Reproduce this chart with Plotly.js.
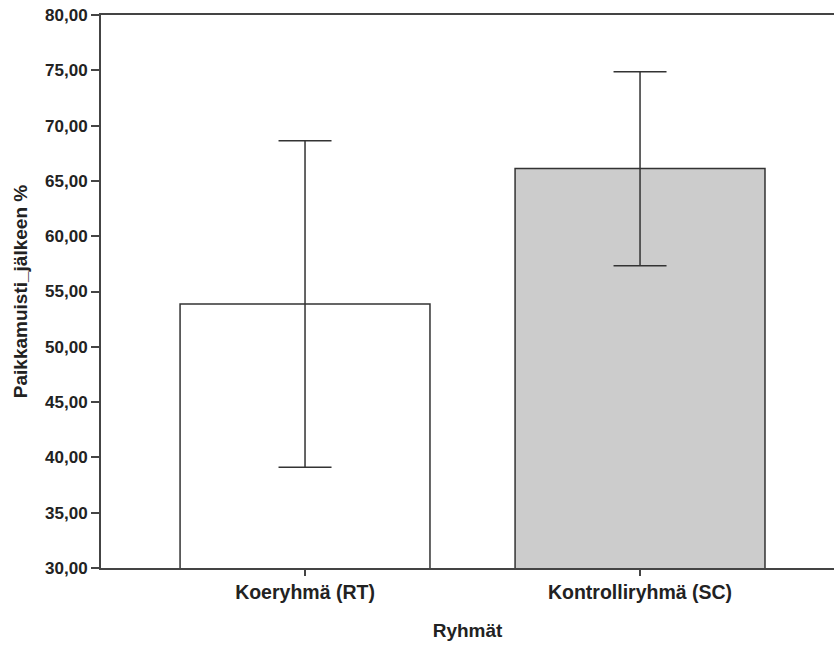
<!DOCTYPE html>
<html>
<head>
<meta charset="utf-8">
<script src="https://cdn.plot.ly/plotly-3.0.1.min.js"></script>
<style>html,body{margin:0;padding:0;background:#fff;}#chart{width:834px;height:646px;}</style>
</head>
<body>
<div id="chart"></div>
<script>
const categories = ["Koeryhmä (RT)", "Kontrolliryhmä (SC)"];
const means = [53.87, 66.12];
const lowerCI = [39.10, 57.33];
const upperCI = [68.63, 74.86];
const barColors = ["#ffffff", "#cccccc"];
const yTickValues = [30, 35, 40, 45, 50, 55, 60, 65, 70, 75, 80];

const plus = upperCI.map((u, i) => u - means[i]);
const minus = lowerCI.map((l, i) => means[i] - l);

const trace = {
  type: "bar",
  x: categories,
  y: means,
  base: 0,
  width: 0.746,
  marker: { color: barColors, line: { color: "#333333", width: 1.5 } },
  error_y: {
    type: "data", symmetric: false, array: plus, arrayminus: minus,
    color: "#333333", thickness: 1.5, width: 26.5
  },
  hoverinfo: "none"
};

const layout = {
  width: 834, height: 646,
  margin: { l: 101, r: 0, t: 15, b: 78 },
  paper_bgcolor: "#ffffff", plot_bgcolor: "#ffffff",
  separators: ",.",
  font: { family: "Liberation Sans, Arial, sans-serif", color: "#222222" },
  showlegend: false,
  xaxis: {
    type: "category",
    range: [-0.609, 1.579],
    showline: true, linecolor: "#444444", linewidth: 2, mirror: true,
    ticks: "outside", ticklen: 6, tickcolor: "#444444", tickwidth: 1.5,
    showgrid: false, zeroline: false,
    tickfont: { size: 19.5, weight: "bold", color: "#222222" },
    title: { text: "Ryhmät", font: { size: 19, weight: "bold", color: "#222222" }, standoff: 21 }
  },
  yaxis: {
    range: [30, 80],
    tickvals: yTickValues,
    tickformat: ".2f",
    showline: true, linecolor: "#444444", linewidth: 2,
    ticks: "outside", ticklen: 8, tickcolor: "#444444", tickwidth: 2,
    showgrid: false, zeroline: false,
    tickfont: { size: 17, weight: "bold", color: "#222222" },
    title: { text: "Paikkamuisti_jälkeen %", font: { size: 19, weight: "bold", color: "#222222" }, standoff: 12 }
  }
};

Plotly.newPlot("chart", [trace], layout, { staticPlot: true, displayModeBar: false });
</script>
</body>
</html>
